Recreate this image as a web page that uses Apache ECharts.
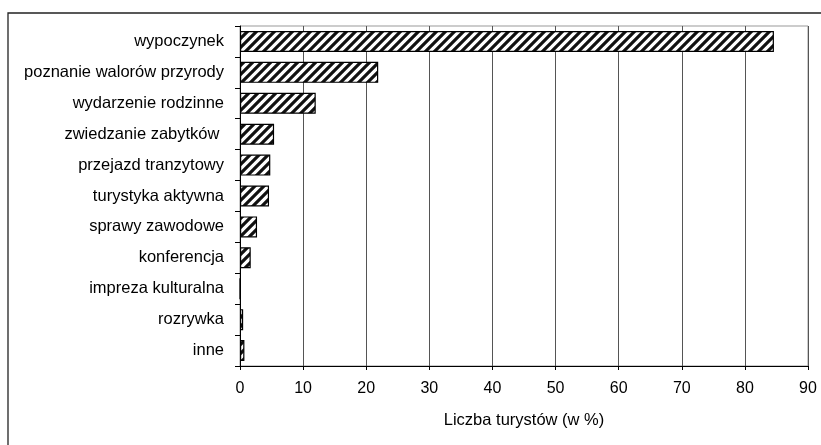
<!DOCTYPE html>
<html>
<head>
<meta charset="utf-8">
<style>
  html, body { margin: 0; padding: 0; background: #fff; }
  #chart { width: 821px; height: 445px; }
</style>
<script src="https://cdn.jsdelivr.net/npm/echarts@6/dist/echarts.min.js"></script>
</head>
<body>
<div id="chart"></div>
<script>
// Cele przyjazdu turystów
const categories = [
  'wypoczynek',
  'poznanie walorów przyrody',
  'wydarzenie rodzinne',
  'zwiedzanie zabytków ',
  'przejazd tranzytowy',
  'turystyka aktywna',
  'sprawy zawodowe',
  'konferencja',
  'impreza kulturalna',
  'rozrywka',
  'inne'
];
const shares = [84.6, 21.9, 12.0, 5.4, 4.8, 4.6, 2.7, 1.7, 0, 0.5, 0.7];
const axisTitle = 'Liczba turystów (w %)';

// diagonal hatch fill for the bars
function hatchPattern() {
  const s = 9;
  const c = document.createElement('canvas');
  c.width = s; c.height = s;
  const g = c.getContext('2d');
  g.fillStyle = '#fff';
  g.fillRect(0, 0, s, s);
  g.strokeStyle = '#111';
  g.lineWidth = 3.2;
  g.beginPath();
  g.moveTo(-s, 2 * s); g.lineTo(2 * s, -s);
  g.moveTo(-2 * s, 2 * s); g.lineTo(s, -s);
  g.moveTo(0, 2 * s); g.lineTo(3 * s, -s);
  g.stroke();
  return c;
}

const chart = echarts.init(document.getElementById('chart'), null, { renderer: 'canvas' });
const font = 'Liberation Sans, Arial, sans-serif';

chart.setOption({
  animation: false,
  textStyle: { fontFamily: font },
  graphic: [{
    type: 'rect',
    shape: { x: 8, y: 13, width: 900, height: 500 },
    style: { fill: 'none', stroke: '#222', lineWidth: 1.3 },
    silent: true,
    z: -1
  }],
  grid: {
    left: 240, right: 13, top: 26, bottom: 79,
    show: true, borderColor: '#999', borderWidth: 1,
    containLabel: false
  },
  xAxis: {
    type: 'value',
    min: 0, max: 90, interval: 10,
    name: axisTitle,
    nameLocation: 'middle',
    nameGap: 46,
    nameTextStyle: { color: '#000', fontSize: 16.5, fontFamily: font },
    axisLine: { show: true, lineStyle: { color: '#000', width: 1 } },
    axisTick: { show: true, length: 4, lineStyle: { color: '#000' } },
    axisLabel: { color: '#000', fontSize: 16, margin: 15, fontFamily: font },
    splitLine: { show: true, lineStyle: { color: '#555', width: 1 } }
  },
  yAxis: {
    type: 'category',
    data: categories,
    inverse: true,
    axisLine: { show: true, lineStyle: { color: '#000', width: 1 } },
    axisTick: { show: true, length: 5, inside: false, lineStyle: { color: '#000' } },
    axisLabel: { color: '#000', fontSize: 16.5, margin: 16, fontFamily: font },
    splitLine: { show: false }
  },
  series: [{
    type: 'bar',
    data: shares,
    barWidth: 21,
    itemStyle: {
      color: { image: hatchPattern(), repeat: 'repeat' },
      borderColor: '#000',
      borderWidth: 1.2
    }
  }]
});
</script>
</body>
</html>
